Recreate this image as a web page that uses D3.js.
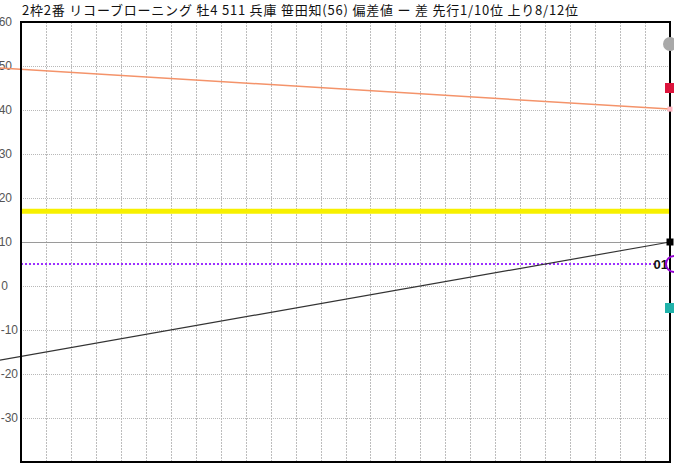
<!DOCTYPE html>
<html><head><meta charset="utf-8">
<script src="https://cdn.jsdelivr.net/npm/d3@7"></script>
<style>
html,body{margin:0;padding:0;background:#fff;}
svg{display:block;}
</style>
</head><body>
<svg id="chart" width="674" height="466"></svg>
<script>
// ---- data ----
const titleText = "2枠2番 リコーブローニング 牡4 511 兵庫 笹田知(56) 偏差値 ー 差 先行1/10位 上り8/12位";
const xColumns = d3.range(0, 27);             // vertical grid columns 0..26
const yTicks = [60, 50, 40, 30, 20, 10, 0, -10, -20, -30];
const yDomain = [-40, 60];
const xDomain = [0, 26];
const referenceValue = 10;                    // solid grey line
const orangeLine = [[-1, 49.6], [26, 40.2]];
const blackLine = [[-1, -17], [26, 10]];
const yellowValue = 17;
const purpleValue = 5;
const purpleLabel = "01";
const markerX = 26;
const markers = [
  {shape: "circle", value: 55, color: "#a9a9a9", size: 7},
  {shape: "square", value: 45, color: "#dc143c", size: 10},
  {shape: "square", value: 40.2, color: "#ffb6c1", size: 5},
  {shape: "square", value: 10, color: "#000000", size: 7},
  {shape: "square", value: -5, color: "#20b2aa", size: 10}
];

// ---- layout ----
const svg = d3.select("#chart");
const mLeft = 21, mRight = 670, mTop = 22, mBottom = 462;
const x = d3.scaleLinear().domain(xDomain).range([mLeft, mRight]);
const y = d3.scaleLinear().domain(yDomain).range([mBottom, mTop]);

// vertical grid
svg.append("g").selectAll("line").data(xColumns.slice(1, -1)).join("line")
  .attr("x1", d => Math.round(x(d)) + 0.5).attr("x2", d => Math.round(x(d)) + 0.5)
  .attr("y1", mTop).attr("y2", mBottom)
  .attr("stroke", "#bdbdbd").attr("stroke-width", 1)
  .attr("stroke-dasharray", "2,1");

// horizontal grid
svg.append("g").selectAll("line").data(yTicks.filter(v => v !== referenceValue && v < 60)).join("line")
  .attr("x1", mLeft).attr("x2", mRight)
  .attr("y1", d => Math.round(y(d)) + 0.5).attr("y2", d => Math.round(y(d)) + 0.5)
  .attr("stroke", "#b8b8b8").attr("stroke-width", 1)
  .attr("stroke-dasharray", "1,1");

svg.append("line")
  .attr("x1", mLeft).attr("x2", mRight)
  .attr("y1", Math.round(y(referenceValue)) + 0.5).attr("y2", Math.round(y(referenceValue)) + 0.5)
  .attr("stroke", "#9a9a9a").attr("stroke-width", 1.2);

// y labels
svg.append("g").selectAll("text").data(yTicks).join("text")
  .attr("x", d => d < 0 ? 18 : (d === 0 ? 8 : 12))
  .attr("y", d => y(d) + 4)
  .attr("text-anchor", "end")
  .attr("font-family", "Liberation Sans, Arial, sans-serif")
  .attr("font-size", 12)
  .attr("fill", "#555")
  .text(d => d);

// yellow line
svg.append("line")
  .attr("x1", mLeft).attr("x2", mRight)
  .attr("y1", y(yellowValue)).attr("y2", y(yellowValue))
  .attr("stroke", "#f7f000").attr("stroke-width", 5);

// purple dotted
svg.append("line")
  .attr("x1", mLeft).attr("x2", x(markerX) - 14)
  .attr("y1", y(purpleValue)).attr("y2", y(purpleValue))
  .attr("stroke", "#9b30ff").attr("stroke-width", 2)
  .attr("stroke-dasharray", "2,2");

const line = d3.line().x(d => x(d[0])).y(d => y(d[1]));
svg.append("path").datum(orangeLine).attr("d", line)
  .attr("fill", "none").attr("stroke", "#f4936a").attr("stroke-width", 1.5);
svg.append("path").datum(blackLine).attr("d", line)
  .attr("fill", "none").attr("stroke", "#333").attr("stroke-width", 1.2);

// border
svg.append("rect")
  .attr("x", mLeft).attr("y", mTop)
  .attr("width", mRight - mLeft).attr("height", mBottom - mTop)
  .attr("fill", "none").attr("stroke", "#000").attr("stroke-width", 2);

// markers
markers.forEach(m => {
  if (m.shape === "circle") {
    svg.append("circle").attr("cx", x(markerX)).attr("cy", y(m.value))
      .attr("r", m.size).attr("fill", m.color);
  } else {
    svg.append("rect")
      .attr("x", x(markerX) - m.size / 2).attr("y", y(m.value) - m.size / 2)
      .attr("width", m.size).attr("height", m.size).attr("fill", m.color);
  }
});

// purple circle marker with label
svg.append("text")
  .attr("x", x(markerX) - 2).attr("y", y(purpleValue) + 5)
  .attr("text-anchor", "end")
  .attr("font-family", "Liberation Sans, Arial, sans-serif")
  .attr("font-size", 13).attr("font-weight", "bold")
  .attr("fill", "#111").text(purpleLabel);
svg.append("circle").attr("cx", x(markerX) + 4).attr("cy", y(purpleValue))
  .attr("r", 8).attr("fill", "none").attr("stroke", "#9400d3").attr("stroke-width", 2);

// title
svg.append("text")
  .attr("x", 22).attr("y", 15)
  .attr("font-family", "Noto Sans CJK JP, sans-serif")
  .attr("font-size", 13)
  .attr("fill", "#111")
  .attr("textLength", 556)
  .attr("lengthAdjust", "spacing")
  .text(titleText);
</script>
</body></html>
